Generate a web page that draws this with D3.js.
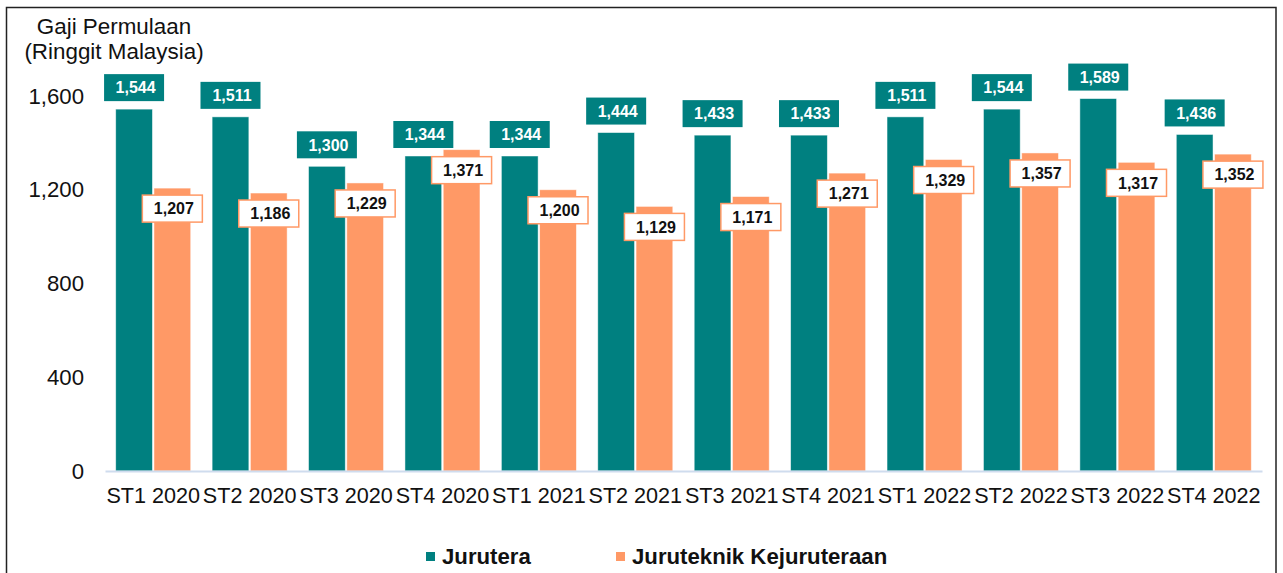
<!DOCTYPE html>
<meta charset="utf-8">
<body>
<script src="https://cdn.jsdelivr.net/npm/d3@7"></script>
<style>
    html, body {
        margin: 0;
        background: #fff;
    }
    svg text {
        font-family: "Liberation Sans", Arial, sans-serif;
    }
</style>
<script>
var categories = ["ST1 2020", "ST2 2020", "ST3 2020", "ST4 2020",
                  "ST1 2021", "ST2 2021", "ST3 2021", "ST4 2021",
                  "ST1 2022", "ST2 2022", "ST3 2022", "ST4 2022"];
var seriesNames = ["Jurutera", "Juruteknik Kejuruteraan"];
var jurutera = [1544, 1511, 1300, 1344, 1344, 1444, 1433, 1433, 1511, 1544, 1589, 1436];
var juruteknik = [1207, 1186, 1229, 1371, 1200, 1129, 1171, 1271, 1329, 1357, 1317, 1352];
var yTicks = [0, 400, 800, 1200, 1600];

var colors = ["#008080", "#FF9966"],
    width = 1283,
    height = 573;

var data = categories.map(function(c, i) {
    return {cat: c, values: [jurutera[i], juruteknik[i]]};
});

var svg = d3.select("body").append("svg")
    .attr("width", width)
    .attr("height", height);

// outer frame
svg.append("rect")
    .attr("x", 6.5).attr("y", 7.5)
    .attr("width", 1269.5).attr("height", 600)
    .attr("fill", "none")
    .attr("stroke", "#222")
    .attr("stroke-width", 1.5);

var x0 = d3.scaleBand()
    .domain(categories)
    .range([105, 1262])
    .paddingInner(0.222)
    .paddingOuter(0.111);

var x1 = d3.scaleBand()
    .domain([0, 1])
    .range([0, x0.bandwidth()])
    .paddingInner(0.04);

var y = d3.scaleLinear()
    .domain([0, 1600])
    .range([471, 96]);

// title
var title = svg.append("text")
    .attr("text-anchor", "middle")
    .attr("font-size", 22.4)
    .attr("fill", "#111");
title.append("tspan").attr("x", 114).attr("y", 34).text("Gaji Permulaan");
title.append("tspan").attr("x", 114).attr("y", 59).text("(Ringgit Malaysia)");

// y axis
var yAxis = svg.append("g")
    .attr("transform", "translate(105,0)")
    .call(d3.axisLeft(y).tickValues(yTicks).tickSize(0).tickPadding(21)
        .tickFormat(d3.format(",")));
yAxis.select(".domain").remove();
yAxis.selectAll("text")
    .attr("font-size", 22.2)
    .attr("font-family", "Liberation Sans, Arial, sans-serif")
    .attr("fill", "#111");

// bars
var groups = svg.selectAll(".grp")
    .data(data)
    .enter().append("g")
    .attr("class", "grp")
    .attr("transform", function(d) { return "translate(" + x0(d.cat) + ",0)"; });

groups.selectAll("rect")
    .data(function(d) { return d.values; })
    .enter().append("rect")
    .attr("x", function(d, i) { return x1(i); })
    .attr("y", function(d) { return y(d); })
    .attr("width", x1.bandwidth())
    .attr("height", function(d) { return y(0) - y(d); })
    .attr("fill", function(d, i) { return colors[i]; })
    .attr("stroke", "#fff")
    .attr("stroke-opacity", 0.6)
    .attr("stroke-width", 0.8);

// x axis
var xAxis = svg.append("g")
    .attr("transform", "translate(0,471)")
    .call(d3.axisBottom(x0).tickSize(0).tickPadding(16.5));
xAxis.select(".domain")
    .attr("stroke", "#cfdcee")
    .attr("stroke-width", 2);
xAxis.selectAll("text")
    .attr("font-size", 21.6)
    .attr("font-family", "Liberation Sans, Arial, sans-serif")
    .attr("fill", "#111");

// data labels
var fmt = d3.format(",");
var labels = groups.selectAll(".lbl")
    .data(function(d) { return d.values; })
    .enter().append("g")
    .attr("class", "lbl")
    .attr("transform", function(d, i) {
        var cx = x1(i) + x1.bandwidth() / 2,
            cy = i === 0 ? y(d) - 8 - 13.5 : y(d) + 7 + 13.5;
        return "translate(" + cx + "," + cy + ")";
    });

labels.append("rect")
    .attr("x", -30).attr("y", -13.5)
    .attr("width", 60).attr("height", 27)
    .attr("fill", function(d, i) { return i === 0 ? colors[0] : "#fff"; })
    .attr("stroke", function(d, i) { return i === 0 ? "none" : colors[1]; })
    .attr("stroke-width", 1.5);

labels.append("text")
    .attr("x", 1.5)
    .attr("text-anchor", "middle")
    .attr("dy", "0.36em")
    .attr("font-size", 16)
    .attr("font-weight", "bold")
    .attr("fill", function(d, i) { return i === 0 ? "#fff" : "#111"; })
    .text(function(d) { return fmt(d); });

// legend
var legendX = [426, 616];
var legend = svg.selectAll(".leg")
    .data(seriesNames)
    .enter().append("g")
    .attr("class", "leg")
    .attr("transform", function(d, i) { return "translate(" + legendX[i] + ",552)"; });
legend.append("rect")
    .attr("width", 9).attr("height", 9)
    .attr("fill", function(d, i) { return colors[i]; });
legend.append("text")
    .attr("x", 16).attr("y", 11.5)
    .attr("font-size", 22.2)
    .attr("font-weight", "bold")
    .attr("fill", "#111")
    .text(function(d) { return d; });
</script>
